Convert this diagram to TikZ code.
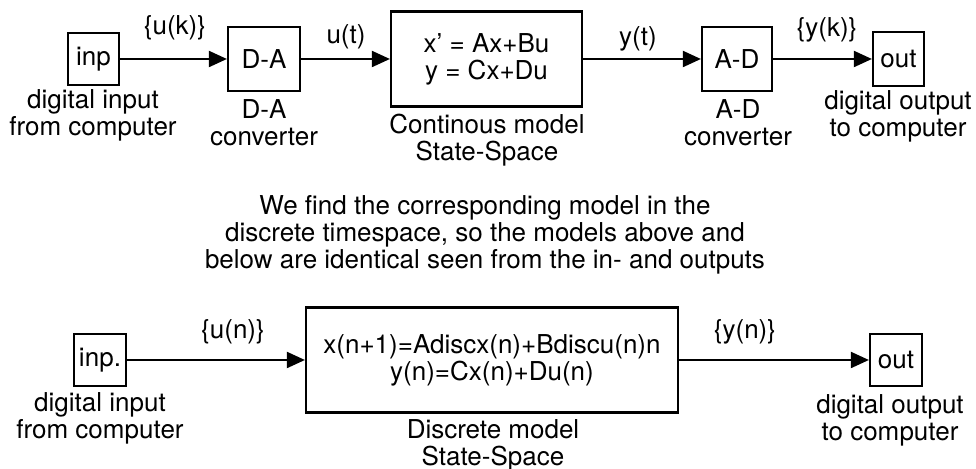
\documentclass[tikz,border=0pt]{standalone}
\usepackage{fontspec}
\setmainfont{TeX Gyre Heros}
\usepackage{tikz}
\usetikzlibrary{arrows.meta,positioning,calc}

\begin{document}
\begin{tikzpicture}[x=0.5pt,y=-0.5pt,
    font=\fontsize{13}{13.5}\selectfont,
    blk/.style={draw,line width=1.1pt,inner sep=0pt,align=center},
    lbl/.style={align=center,inner sep=0pt},
    sig/.style={line width=1pt,-{Triangle[length=9pt,width=8pt]}}]
    \useasboundingbox (0,0) rectangle (976,469);

    % Continuous chain: inp -> D-A -> state-space -> A-D -> out
    \node[blk,minimum width=25.5pt,minimum height=26pt] (inp) at (93.5,59) {inp};
    \node[blk,minimum width=36pt,minimum height=32pt] (da) at (264,59) {D-A};
    \node[blk,minimum width=95.5pt,minimum height=47.5pt] (ss) at (486.5,59) {x’ = Ax+Bu\\ y = Cx+Du};
    \node[blk,minimum width=35pt,minimum height=32pt] (ad) at (737,59) {A-D};
    \node[blk,minimum width=25.5pt,minimum height=27pt] (out) at (898.5,59) {out};

    \draw[sig] (inp) -- (da);
    \draw[sig] (da) -- (ss);
    \draw[sig] (ss) -- (ad);
    \draw[sig] (ad) -- (out);

    \node[lbl] (uk) at (175,28) {\{u(k)\}};
    \node[lbl] (ut) at (346,37) {u(t)};
    \node[lbl] (yt) at (638,39) {y(t)};
    \node[lbl] (yk) at (827,30) {\{y(k)\}};

    \node[lbl] (inpTxt) at (93,115) {digital input\\from computer};
    \node[lbl] (daTxt) at (264,123) {D-A\\converter};
    \node[lbl] (ssTxt) at (487,140) {Continous model\\State-Space};
    \node[lbl] (adTxt) at (738,123) {A-D\\converter};
    \node[lbl] (outTxt) at (898,116) {digital output\\to computer};

    % Explanation
    \node[lbl] (note) at (485,235) {We find the corresponding model in the\\
        discrete timespace, so the models above and\\
        below are identical seen from the in- and outputs};

    % Discrete chain: inp. -> discrete model -> out
    \node[blk,minimum width=26pt,minimum height=26pt] (dinp) at (100,360) {inp.};
    \node[blk,minimum width=186pt,minimum height=52.5pt] (dss) at (492,360) {x(n+1)=Adiscx(n)+Bdiscu(n)n\\y(n)=Cx(n)+Du(n)};
    \node[blk,minimum width=26pt,minimum height=26pt] (dout) at (896,360) {out};

    \draw[sig] (dinp) -- (dss);
    \draw[sig] (dss) -- (dout);

    \node[lbl] (un) at (233,332) {\{u(n)\}};
    \node[lbl] (yn) at (745,332) {\{y(n)\}};

    \node[lbl] (dinpTxt) at (100,418) {digital input\\from computer};
    \node[lbl] (dssTxt) at (493,445) {Discrete model\\State-Space};
    \node[lbl] (doutTxt) at (890,420) {digital output\\to computer};
\end{tikzpicture}
\end{document}
